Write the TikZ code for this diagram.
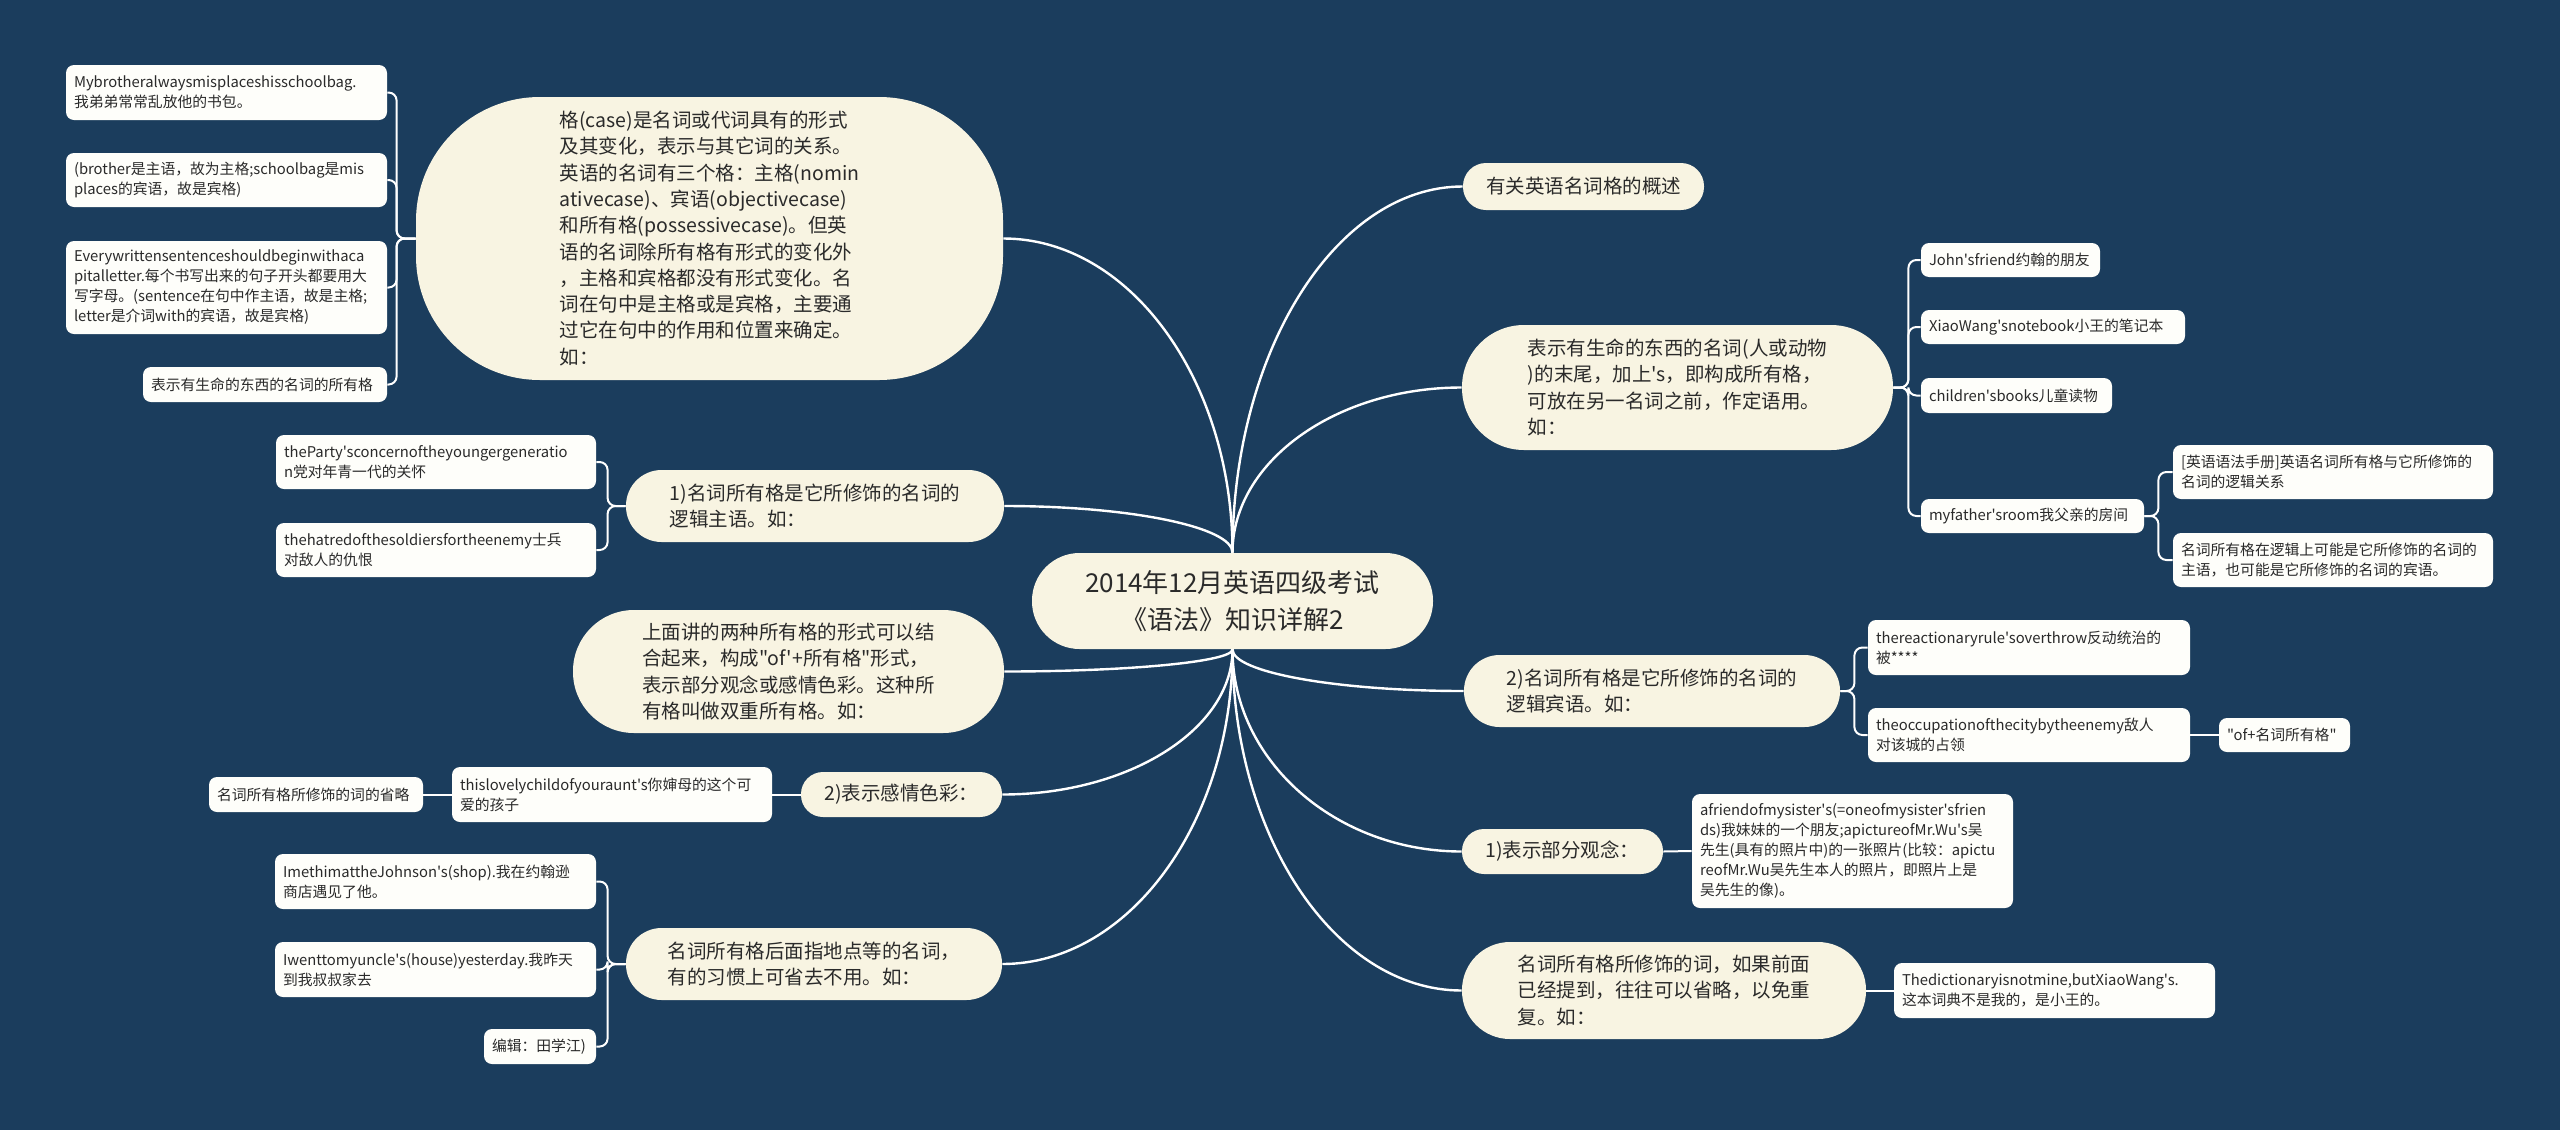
\documentclass[tikz,border=0pt]{standalone}
\usepackage{fontspec}
\newfontfamily\cjk[Ligatures=TeXOff]{Noto Sans CJK SC}
\usetikzlibrary{calc}
\definecolor{bgc}{HTML}{1B3D5D}
\definecolor{cream}{HTML}{F8F4E2}
\definecolor{leafc}{HTML}{FEFEFA}
\definecolor{txt}{HTML}{2A2A2A}
\pgfdeclarelayer{bglayer}
\pgfdeclarelayer{linelayer}
\pgfsetlayers{bglayer,linelayer,main}
\tikzset{
  mainnode/.style={fill=cream, text=txt, font={\cjk\fontsize{9.75pt}{13.15pt}\selectfont}, align=left, inner sep=0pt},
  centernode/.style={fill=cream, text=txt, font={\cjk\fontsize{13pt}{18.5pt}\selectfont}, align=center, inner sep=0pt},
  leaf/.style={fill=leafc, rounded corners=4pt, text=txt, font={\cjk\fontsize{7.4pt}{10pt}\selectfont}, align=left, inner xsep=4pt, inner ysep=0pt},
  conn/.style={draw=white, line width=1.2pt},
  bconn/.style={draw=white, line width=1pt, rounded corners=4pt},
  curv/.style={to path={.. controls ($(\tikztostart)!0.55!(\tikztostart |- \tikztotarget)$) and ($(\tikztostart |- \tikztotarget)!0.45!(\tikztotarget)$) .. (\tikztotarget)}},
}
\begin{document}
\begin{tikzpicture}[x=0.5pt,y=-0.5pt]
\begin{pgfonlayer}{bglayer}
\fill[bgc] (0,0) rectangle (2560,1130);
\end{pgfonlayer}

% center
\node[centernode, minimum width=200.5pt, minimum height=48pt, rounded corners=23.8pt] (c) at (1232.5,601) {2014年12月英语四级考试\\《语法》知识详解2};

% left main branches
\node[mainnode, minimum width=293.5pt, minimum height=141.5pt, rounded corners=62pt] (ncase) at (709.5,238.5) {格(case)是名词或代词具有的形式\\及其变化，表示与其它词的关系。\\英语的名词有三个格：主格(nomin\\ativecase)、宾语(objectivecase)\\和所有格(possessivecase)。但英\\语的名词除所有格有形式的变化外\\，主格和宾格都没有形式变化。名\\词在句中是主格或是宾格，主要通\\过它在句中的作用和位置来确定。\\如：};
\node[mainnode, minimum width=189pt, minimum height=36pt, rounded corners=17.8pt] (nsubj) at (815,506) {1)名词所有格是它所修饰的名词的\\逻辑主语。如：};
\node[mainnode, minimum width=215.5pt, minimum height=61.5pt, rounded corners=30.5pt] (ndouble) at (788.5,671.5) {上面讲的两种所有格的形式可以结\\合起来，构成"of'+所有格"形式，\\表示部分观念或感情色彩。这种所\\有格叫做双重所有格。如：};
\node[mainnode, minimum width=100.5pt, minimum height=22.5pt, rounded corners=11pt] (nemo) at (901.5,794.5) {2)表示感情色彩：};
\node[mainnode, minimum width=188pt, minimum height=36pt, rounded corners=17.8pt] (nplace) at (814,964) {名词所有格后面指地点等的名词，\\有的习惯上可省去不用。如：};

% right main branches
\node[mainnode, minimum width=120.5pt, minimum height=23.5pt, rounded corners=11.5pt] (nover) at (1583.5,186.5) {有关英语名词格的概述};
\node[mainnode, minimum width=215.5pt, minimum height=62.5pt, rounded corners=31pt] (nanim) at (1677.5,387.5) {表示有生命的东西的名词(人或动物\\)的末尾，加上's，即构成所有格，\\可放在另一名词之前，作定语用。\\如：};
\node[mainnode, minimum width=188pt, minimum height=36pt, rounded corners=17.8pt] (nobj) at (1652,691) {2)名词所有格是它所修饰的名词的\\逻辑宾语。如：};
\node[mainnode, minimum width=100.5pt, minimum height=22.5pt, rounded corners=11pt] (npart) at (1562.5,851.5) {1)表示部分观念：};
\node[mainnode, minimum width=202pt, minimum height=48.5pt, rounded corners=24pt] (nomit) at (1664,990.5) {名词所有格所修饰的词，如果前面\\已经提到，往往可以省略，以免重\\复。如：};

% left leaves
\node[leaf, text width=152.5pt, minimum height=27.5pt] (a1) at (226.5,92.5) {Mybrotheralwaysmisplaceshisschoolbag.\\我弟弟常常乱放他的书包。};
\node[leaf, text width=152.5pt, minimum height=27pt] (a2) at (226.5,180) {(brother是主语，故为主格;schoolbag是mis\\places的宾语，故是宾格)};
\node[leaf, text width=152.5pt, minimum height=46.5pt] (a3) at (226.5,287.5) {Everywrittensentenceshouldbeginwithaca\\pitalletter.每个书写出来的句子开头都要用大\\写字母。(sentence在句中作主语，故是主格;\\letter是介词with的宾语，故是宾格)};
\node[leaf, text width=114pt, minimum height=17.5pt] (a4) at (265,384.5) {表示有生命的东西的名词的所有格};
\node[leaf, text width=152pt, minimum height=27pt] (b1) at (436,462) {theParty'sconcernoftheyoungergeneratio\\n党对年青一代的关怀};
\node[leaf, text width=152pt, minimum height=27pt] (b2) at (436,550) {thehatredofthesoldiersfortheenemy士兵\\对敌人的仇恨};
\node[leaf, text width=152pt, minimum height=27.5pt] (c2) at (612,794.5) {thislovelychildofyouraunt's你婶母的这个可\\爱的孩子};
\node[leaf, text width=99pt, minimum height=17.5pt] (c1) at (316,794.5) {名词所有格所修饰的词的省略};
\node[leaf, text width=152.5pt, minimum height=27.5pt] (c3) at (435.5,881.5) {ImethimattheJohnson's(shop).我在约翰逊\\商店遇见了他。};
\node[leaf, text width=152.5pt, minimum height=27.5pt] (c4) at (435.5,969.5) {Iwenttomyuncle's(house)yesterday.我昨天\\到我叔叔家去};
\node[leaf, text width=48pt, minimum height=17.5pt] (c5) at (540,1046.5) {编辑：田学江)};

% right leaves
\node[leaf, text width=81.5pt, minimum height=17pt] (d1) at (2010.5,260) {John'sfriend约翰的朋友};
\node[leaf, text width=124pt, minimum height=17pt] (d2) at (2053,327) {XiaoWang'snotebook小王的笔记本};
\node[leaf, text width=87.5pt, minimum height=17.5pt] (d3) at (2016.5,395.5) {children'sbooks儿童读物};
\node[leaf, text width=103.5pt, minimum height=17pt] (d4) at (2032.5,516) {myfather'sroom我父亲的房间};
\node[leaf, text width=152pt, minimum height=27pt] (e1) at (2333,472) {[英语语法手册]英语名词所有格与它所修饰的\\名词的逻辑关系};
\node[leaf, text width=152pt, minimum height=27pt] (e2) at (2333,560) {名词所有格在逻辑上可能是它所修饰的名词的\\主语，也可能是它所修饰的名词的宾语。};
\node[leaf, text width=153pt, minimum height=27.5pt] (f1) at (2029,647.5) {thereactionaryrule'soverthrow反动统治的\\被****};
\node[leaf, text width=153pt, minimum height=27pt] (f2) at (2029,735) {theoccupationofthecitybytheenemy敌人\\对该城的占领};
\node[leaf, text width=57.5pt, minimum height=17pt] (g) at (2284.5,735) {"of+名词所有格"};
\node[leaf, text width=152.5pt, minimum height=57pt] (h) at (1852.5,851) {afriendofmysister's(=oneofmysister'sfrien\\ds)我妹妹的一个朋友;apictureofMr.Wu's吴\\先生(具有的照片中)的一张照片(比较：apictu\\reofMr.Wu吴先生本人的照片，即照片上是\\吴先生的像)。};
\node[leaf, text width=152.5pt, minimum height=27.5pt] (i) at (2054.5,990.5) {Thedictionaryisnotmine,butXiaoWang's.\\这本词典不是我的，是小王的。};

\begin{pgfonlayer}{linelayer}
% center curves
\draw[conn] (c.north) to[curv] (ncase.east);
\draw[conn] (c.north) to[curv] (nsubj.east);
\draw[conn] (c.north) to[curv] (nover.west);
\draw[conn] (c.north) to[curv] (nanim.west);
\draw[conn] (c.south) to[curv] (ndouble.east);
\draw[conn] (c.south) to[curv] (nemo.east);
\draw[conn] (c.south) to[curv] (nplace.east);
\draw[conn] (c.south) to[curv] (nobj.west);
\draw[conn] (c.south) to[curv] (npart.west);
\draw[conn] (c.south) to[curv] (nomit.west);
% brackets
\foreach \ch in {a1,a2,a3,a4} \draw[bconn] (ncase.west) -- ++(-19,0) |- (\ch.east);
\foreach \ch in {b1,b2} \draw[bconn] (nsubj.west) -- ++(-18,0) |- (\ch.east);
\foreach \ch in {c3,c4,c5} \draw[bconn] (nplace.west) -- ++(-18,0) |- (\ch.east);
\foreach \ch in {d1,d2,d3,d4} \draw[bconn] (nanim.east) -- ++(15,0) |- (\ch.west);
\foreach \ch in {e1,e2} \draw[bconn] (d4.east) -- ++(14,0) |- (\ch.west);
\foreach \ch in {f1,f2} \draw[bconn] (nobj.east) -- ++(14,0) |- (\ch.west);
\draw[bconn] (nemo.west) -- (c2.east);
\draw[bconn] (c2.west) -- (c1.east);
\draw[bconn] (f2.east) -- (g.west);
\draw[bconn] (npart.east) -- (h.west);
\draw[bconn] (nomit.east) -- (i.west);
\end{pgfonlayer}
\end{tikzpicture}
\end{document}
